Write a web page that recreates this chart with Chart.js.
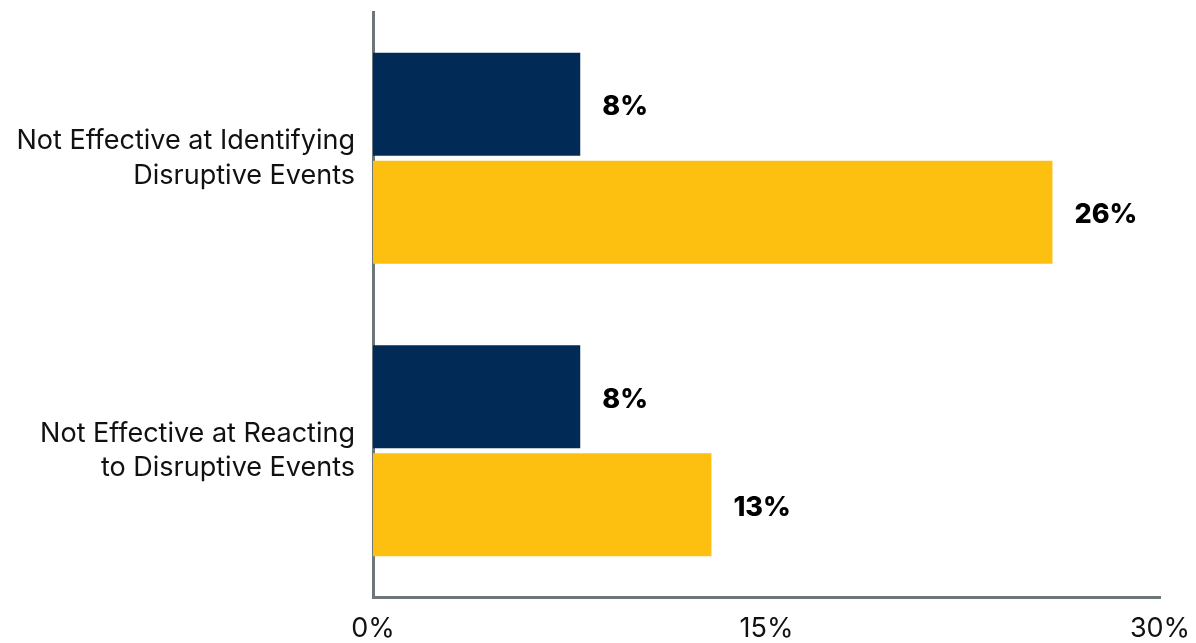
<!DOCTYPE html>
<html>
<head>
<meta charset="utf-8">
<script src="https://cdn.jsdelivr.net/npm/chart.js@4/dist/chart.umd.min.js"></script>
<style>
    html, body { margin: 0; padding: 0; background: #fff; }
    #wrap { width: 1196px; height: 643px; position: relative; }
</style>
</head>
<body>
<div id="wrap"><canvas id="chart"></canvas></div>
<script>
// Chart data
const categories = [
    ['Not Effective at Identifying', 'Disruptive Events'],
    ['Not Effective at Reacting', 'to Disruptive Events']
];
const seriesNames = ['Series A', 'Series B'];
const navyValues = [7.9, 7.9];
const yellowValues = [25.9, 12.9];
const xTicks = [0, 15, 30];

const FONT = 'Inter, "Open Sans", sans-serif';

// Draw value labels at the end of each bar
const valueLabels = {
    id: 'valueLabels',
    afterDatasetsDraw(chart) {
        const ctx = chart.ctx;
        ctx.save();
        ctx.font = '800 27px ' + FONT;
        ctx.fillStyle = '#000';
        ctx.textAlign = 'left';
        ctx.textBaseline = 'middle';
        chart.data.datasets.forEach((ds, i) => {
            chart.getDatasetMeta(i).data.forEach((bar, j) => {
                ctx.fillText(Math.round(ds.data[j]) + '%', bar.x + 22, bar.y + 3);
            });
        });
        ctx.restore();
    }
};

const ctx = document.getElementById('chart').getContext('2d');
new Chart(ctx, {
    type: 'bar',
    data: {
        labels: categories,
        datasets: [{
            label: seriesNames[0],
            data: navyValues,
            backgroundColor: '#022a56',
            barPercentage: 0.954,
            categoryPercentage: 0.7385
        }, {
            label: seriesNames[1],
            data: yellowValues,
            backgroundColor: '#fdc010',
            barPercentage: 0.954,
            categoryPercentage: 0.7385
        }]
    },
    options: {
        indexAxis: 'y',
        responsive: true,
        maintainAspectRatio: false,
        animation: false,
        layout: { padding: { top: 12, right: 36, left: 0, bottom: 0 } },
        plugins: {
            legend: { display: false },
            tooltip: { enabled: false }
        },
        scales: {
            x: {
                min: 0,
                max: 30,
                grid: { display: false, drawTicks: false },
                border: { display: true, color: '#6d7779', width: 3 },
                afterBuildTicks: scale => {
                    scale.ticks = xTicks.map(v => ({ value: v }));
                },
                afterFit: scale => {
                    scale.height = 46;
                    scale.paddingLeft = 0;
                    scale.paddingRight = 0;
                },
                ticks: {
                    padding: 16,
                    color: '#111',
                    font: { family: FONT, size: 27 },
                    callback: v => v + '%',
                    maxRotation: 0
                }
            },
            y: {
                grid: { display: false, drawTicks: false },
                border: { display: true, color: '#6d7779', width: 3 },
                afterFit: scale => {
                    scale.width = 373;
                    scale.paddingTop = 0;
                    scale.paddingBottom = 0;
                },
                ticks: {
                    padding: 18,
                    color: '#111',
                    font: { family: FONT, size: 27, lineHeight: 1.27 }
                }
            }
        }
    },
    plugins: [valueLabels]
});
</script>
</body>
</html>
